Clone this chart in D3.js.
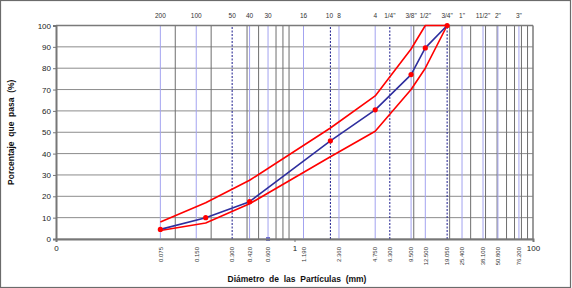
<!DOCTYPE html>
<html>
<head>
<meta charset="utf-8">
<script src="https://cdn.jsdelivr.net/npm/d3@7/dist/d3.min.js"></script>
<style>
  body { margin: 0; background: #fff; }
  svg { display: block; font-family: "Liberation Sans", Arial, sans-serif; }
</style>
</head>
<body>
<svg id="chart"></svg>
<script>
// sieve openings (mm) with their names on top and labels at the bottom
const sieveMm = [0.075, 0.150, 0.300, 0.420, 0.600, 1.190, 2.000, 2.360, 4.750, 6.300, 9.500, 12.500, 19.050, 25.400, 38.100, 50.800, 76.200];
const sieveNames = ["200", "100", "50", "40", "30", "16", "10", "8", "4", "1/4\"", "3/8\"", "1/2\"", "3/4\"", "1\"", "11/2\"", "2\"", "3\""];
const sieveLabels = ["0.075", "0.150", "0.300", "0.420", "0.600", "1.190", "", "2.360", "4.750", "6.300", "9.500", "12.500", "19.050", "25.400", "38.100", "50.800", "76.200"];
const dashedSieves = [0.300, 2.000, 6.300, 19.050];
const minorGrid = [0.1, 0.2, 0.4, 0.5, 0.7, 0.8, 0.9, 10, 20, 30, 40, 50, 60, 70, 80, 90];

// gradation curve and spec limits
const gradMm = [0.075, 0.180, 0.420, 2.000, 4.750, 9.500, 12.500, 19.050];
const passing = [4.5, 10, 17.5, 46, 60.5, 77, 89.5, 100];
const upperLimit = [8, 17, 27.5, 52, 67, 89, 100, 100];
const lowerLimit = [4, 7.5, 16.5, 38.5, 50.5, 70, 80, 100];

const xTicks = [0.01, 1, 100];
const xTickLabels = ["0", "1", "100"];
const yTicks = [0, 10, 20, 30, 40, 50, 60, 70, 80, 90, 100];

const width = 572, height = 288;
const margin = { top: 25.5, right: 39, bottom: 49, left: 56 };

const svg = d3.select("#chart")
    .attr("width", width)
    .attr("height", height);

// outer chart border
svg.append("rect")
    .attr("x", 0.5).attr("y", 0.5)
    .attr("width", width - 2).attr("height", height - 1)
    .attr("fill", "#fff")
    .attr("stroke", "#6b6b6b")
    .attr("stroke-width", 1.2);

const x = d3.scaleLog()
    .domain([0.01, 100])
    .range([margin.left, width - margin.right]);

const y = d3.scaleLinear()
    .domain([0, 100])
    .range([height - margin.bottom, margin.top]);

const g = svg.append("g");

// horizontal gridlines
g.selectAll(".hgrid")
    .data(yTicks)
    .enter().append("line")
    .attr("x1", x(0.01)).attr("x2", x(100))
    .attr("y1", d => y(d)).attr("y2", d => y(d))
    .attr("stroke", "#8c8c8c")
    .attr("stroke-width", 1);

// minor log gridlines
g.selectAll(".vgrid")
    .data(minorGrid)
    .enter().append("line")
    .attr("x1", d => x(d)).attr("x2", d => x(d))
    .attr("y1", y(0)).attr("y2", y(100))
    .attr("stroke", "#6e6e6e")
    .attr("stroke-width", 1);

// sieve lines
g.selectAll(".sieve")
    .data(sieveMm)
    .enter().append("line")
    .attr("x1", d => x(d)).attr("x2", d => x(d))
    .attr("y1", y(0)).attr("y2", y(100))
    .attr("stroke", d => dashedSieves.includes(d) ? "#1a1a8c" : "#a3a3f0")
    .attr("stroke-width", 1)
    .attr("stroke-dasharray", d => dashedSieves.includes(d) ? "2,1.5" : null);

// plot frame (top / right)
g.append("line")
    .attr("x1", x(0.01)).attr("x2", x(100))
    .attr("y1", y(100)).attr("y2", y(100))
    .attr("stroke", "#7a7a7a").attr("stroke-width", 1.5);
g.append("line")
    .attr("x1", x(100)).attr("x2", x(100))
    .attr("y1", y(0)).attr("y2", y(100))
    .attr("stroke", "#7a7a7a").attr("stroke-width", 1.5);

// axes
const yAxis = svg.append("g")
    .attr("transform", `translate(${margin.left},0)`)
    .call(d3.axisLeft(y).tickValues(yTicks).tickSize(3).tickPadding(2));
const xAxis = svg.append("g")
    .attr("transform", `translate(0,${y(0)})`)
    .call(d3.axisBottom(x).tickValues(xTicks).tickSize(3).tickPadding(3)
        .tickFormat((d, i) => xTickLabels[i]));

[yAxis, xAxis].forEach(a => {
    a.select(".domain").attr("stroke", "#777").attr("stroke-width", 2);
    a.selectAll(".tick line").attr("stroke", "#777");
    a.selectAll(".tick text")
        .style("font-family", "Liberation Sans, Arial, sans-serif")
        .style("font-size", "8px")
        .attr("fill", "#222");
});

// sieve names on top
svg.selectAll(".sieveName")
    .data(sieveMm)
    .enter().append("text")
    .attr("x", (d, i) => x(d) + (sieveNames[i] === "10" ? -1 : 0))
    .attr("y", 17.5)
    .attr("text-anchor", "middle")
    .style("font-size", "6.5px")
    .attr("fill", "#333")
    .text((d, i) => sieveNames[i]);

// sieve openings below the axis
svg.selectAll(".sieveLabel")
    .data(sieveMm)
    .enter().append("text")
    .attr("transform", d => `translate(${x(d) + 2.3},${y(0) + 8}) rotate(-90)`)
    .attr("text-anchor", "end")
    .style("font-size", "6px")
    .attr("fill", "#333")
    .text((d, i) => sieveLabels[i]);

// curves
const line = d3.line()
    .x(d => x(d[0]))
    .y(d => y(d[1]));

const series = [
    { values: upperLimit, color: "#ff0000", width: 1.6 },
    { values: lowerLimit, color: "#ff0000", width: 1.6 },
    { values: passing, color: "#2e2e9e", width: 1.6 }
];

g.selectAll(".curve")
    .data(series)
    .enter().append("path")
    .attr("d", s => line(gradMm.map((m, i) => [m, s.values[i]])))
    .attr("fill", "none")
    .attr("stroke", s => s.color)
    .attr("stroke-width", s => s.width)
    .attr("stroke-linejoin", "round");

g.selectAll(".dot")
    .data(gradMm.map((m, i) => [m, passing[i]]))
    .enter().append("circle")
    .attr("cx", d => x(d[0]))
    .attr("cy", d => y(d[1]))
    .attr("r", 2.6)
    .attr("fill", "#ff0000");

// small mark on the axis at 0.600
g.append("rect")
    .attr("x", x(0.6) - 2).attr("y", y(0) - 2)
    .attr("width", 4).attr("height", 4)
    .attr("fill", "#7070d0");

// axis titles
svg.append("text")
    .attr("transform", `translate(14,${(y(0) + y(100)) / 2}) rotate(-90)`)
    .attr("text-anchor", "middle")
    .style("font-size", "8.5px")
    .style("font-weight", "bold")
    .style("white-space", "pre")
    .attr("fill", "#111")
    .text("Porcentaje  que  pasa  (%)");

svg.append("text")
    .attr("x", 297)
    .attr("y", 282)
    .attr("text-anchor", "middle")
    .style("font-size", "8.5px")
    .style("font-weight", "bold")
    .style("white-space", "pre")
    .attr("fill", "#111")
    .text("Diámetro  de  las  Partículas  (mm)");
</script>
</body>
</html>
